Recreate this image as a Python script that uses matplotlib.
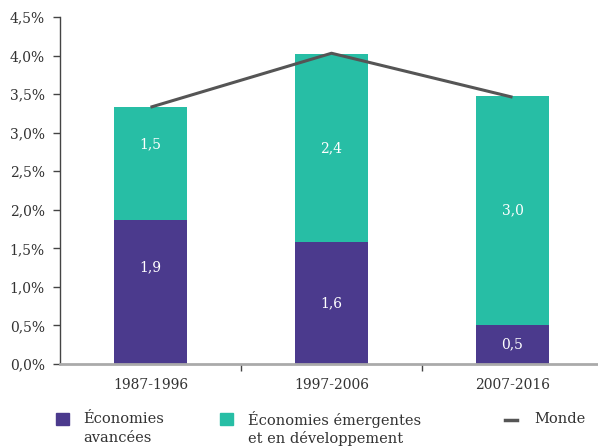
import matplotlib
matplotlib.use("Agg")
import matplotlib.pyplot as plt
from matplotlib.patches import Rectangle
from matplotlib.lines import Line2D
from matplotlib.ticker import FuncFormatter, FixedLocator

periods = ["1987-1996", "1997-2006", "2007-2016"]
avancees = [1.87, 1.58, 0.51]
emergentes = [1.46, 2.44, 2.96]
monde = [3.33, 4.03, 3.46]
lab_avancees = ["1,9", "1,6", "0,5"]
lab_emergentes = ["1,5", "2,4", "3,0"]
yticks = [0, 0.5, 1.0, 1.5, 2.0, 2.5, 3.0, 3.5, 4.0, 4.5]

# label placement (fraction of segment height), layout only
label_frac = [0.67, 0.5, 0.5]

c_purple = "#4B3A8D"
c_teal = "#27BEA5"
c_line = "#555555"
c_text = "#333333"

plt.rcParams['font.family'] = ['DejaVu Serif']
fs = 10
fs_leg = 10.5

fig = plt.figure(figsize=(5.98, 4.48), dpi=100)
ax = fig.add_axes([60/598, 84/448, 543/598, 347/448])

x = list(range(len(periods)))
w = 0.4
ax.bar(x, avancees, width=w, color=c_purple, zorder=2)
ax.bar(x, emergentes, width=w, bottom=avancees, color=c_teal, zorder=2)
ax.plot(x, monde, color=c_line, lw=2.2, zorder=3, solid_capstyle='butt')

for i in x:
    f = label_frac[i]
    ax.text(i, avancees[i] * f, lab_avancees[i], color="white", ha="center", va="center", fontsize=fs)
    ax.text(i, avancees[i] + emergentes[i] * f, lab_emergentes[i], color="white", ha="center", va="center", fontsize=fs)

ax.set_xlim(-0.5, 2.5)
ax.set_ylim(0, 4.5)
ax.set_yticks(yticks)
ax.yaxis.set_major_formatter(FuncFormatter(lambda v, p: f"{v:.1f}%".replace(".", ",")))
ax.set_xticks(x)
ax.set_xticklabels(periods)
ax.xaxis.set_minor_locator(FixedLocator([0.5, 1.5]))
ax.tick_params(axis='x', which='major', length=0, pad=10, labelsize=fs, labelcolor=c_text)
ax.tick_params(axis='x', which='minor', length=5, width=1, color="#444444")
ax.tick_params(axis='y', length=5, width=1, color="#444444", labelsize=fs, labelcolor=c_text, pad=6)

for s in ["top", "right"]:
    ax.spines[s].set_visible(False)
ax.spines["left"].set_color("#444444")
ax.spines["left"].set_linewidth(1)
ax.spines["bottom"].set_color("#aaaaaa")
ax.spines["bottom"].set_linewidth(2)
ax.spines["bottom"].set_zorder(4)

# legend
H, W = 448, 598
def fx(px): return px / W
def fy(py): return 1 - py / H

fig.patches.append(Rectangle((fx(56), fy(425)), 13/W, 12/H, transform=fig.transFigure, color=c_purple))
fig.text(fx(83), fy(419), "Économies", fontsize=fs_leg, va="center", color=c_text)
fig.text(fx(83), fy(438), "avancées", fontsize=fs_leg, va="center", color=c_text)
fig.patches.append(Rectangle((fx(220), fy(425)), 13/W, 12/H, transform=fig.transFigure, color=c_teal))
fig.text(fx(248), fy(419), "Économies émergentes", fontsize=fs_leg, va="center", color=c_text)
fig.text(fx(248), fy(438), "et en développement", fontsize=fs_leg, va="center", color=c_text)
fig.lines.append(Line2D([fx(505), fx(517)], [fy(420), fy(420)], transform=fig.transFigure, color=c_line, lw=2.5))
fig.text(fx(534), fy(419), "Monde", fontsize=fs_leg, va="center", color=c_text)

fig.savefig("out.png", dpi=100)
